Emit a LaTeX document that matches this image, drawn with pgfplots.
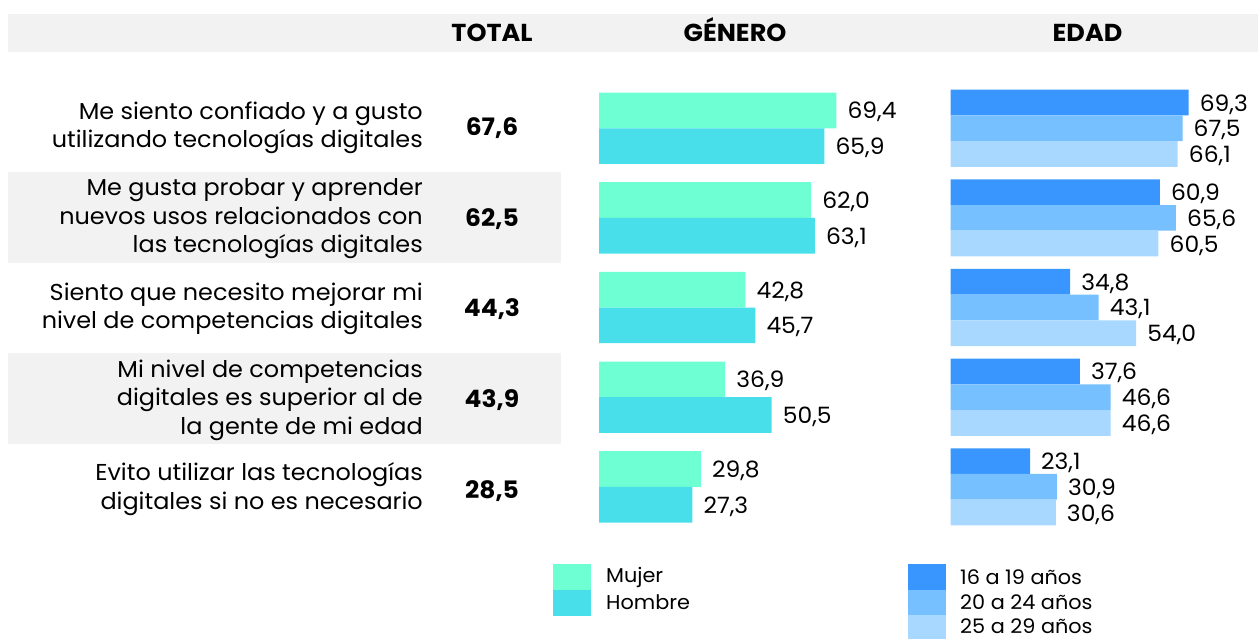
\documentclass[border=0pt]{standalone}
\usepackage{pgfplots}
\pgfplotsset{compat=1.18}
\usepackage{fontspec}
\setmainfont[FakeStretch=1.04]{Poppins}
\definecolor{mujer}{HTML}{6EFFD2}
\definecolor{hombre}{HTML}{48DEEA}
\definecolor{eA}{HTML}{3A96FF}
\definecolor{eB}{HTML}{77C0FF}
\definecolor{eC}{HTML}{A8D8FF}
\definecolor{band}{HTML}{F2F2F2}
\newcommand{\lbl}{\fontsize{23}{28.5}\selectfont}
\newcommand{\val}{\fontsize{22.5}{26}\selectfont}
\newcommand{\hdr}{\fontsize{24.5}{28}\selectfont\bfseries}
\newcommand{\tot}{\fontsize{24}{28}\selectfont\bfseries}
\newcommand{\leg}{\fontsize{20}{24}\selectfont}
\begin{document}
\begin{tikzpicture}
\begin{scope}[x=1pt,y=-1pt]
\path (0,0) rectangle (1258,639);
% bands
\fill[band] (7.7,14) rectangle (1258,51.7);
\fill[band] (7.7,172) rectangle (561,263);
\fill[band] (7.7,353) rectangle (561,443.5);
% headers
\node[font=\hdr, anchor=base, inner sep=0pt] at (492,42) {TOTAL};
\node[font=\hdr, anchor=base, inner sep=0pt] at (735,42) {GÉNERO};
\node[font=\hdr, anchor=base, inner sep=0pt] at (1087.5,42) {EDAD};
% row labels
\node[font=\lbl,align=right,anchor=east,inner sep=0pt] at (423,128) {Me siento confiado y a gusto\\utilizando tecnologías digitales};
\node[font=\lbl,align=right,anchor=east,inner sep=0pt] at (423,219) {Me gusta probar y aprender\\nuevos usos relacionados con\\las tecnologías digitales};
\node[font=\lbl,align=right,anchor=east,inner sep=0pt] at (423,309) {Siento que necesito mejorar mi\\nivel de competencias digitales};
\node[font=\lbl,align=right,anchor=east,inner sep=0pt] at (423,400) {Mi nivel de competencias\\digitales es superior al de\\la gente de mi edad};
\node[font=\lbl,align=right,anchor=east,inner sep=0pt] at (423,489) {Evito utilizar las tecnologías\\digitales si no es necesario};
% totals
\node[font=\tot] at (492,128) {67,6};
\node[font=\tot] at (492,219) {62,5};
\node[font=\tot] at (492,309) {44,3};
\node[font=\tot] at (492,400) {43,9};
\node[font=\tot] at (492,491) {28,5};
% legends
\fill[mujer] (553,564) rectangle (590.6,590);
\fill[hombre] (553,590) rectangle (590.6,616);
\node[font=\leg, anchor=west, inner sep=0pt] at (606,577) {Mujer};
\node[font=\leg, anchor=west, inner sep=0pt] at (606,602) {Hombre};
\fill[eA] (908,564) rectangle (946,589.5);
\fill[eB] (908,589.5) rectangle (946,614.5);
\fill[eC] (908,614.5) rectangle (946,639);
\node[font=\leg, anchor=west, inner sep=0pt] at (960,577) {16 a 19 años};
\node[font=\leg, anchor=west, inner sep=0pt] at (960,602) {20 a 24 años};
\node[font=\leg, anchor=west, inner sep=0pt] at (960,626.5) {25 a 29 años};
\end{scope}
% GENERO
\begin{axis}[at={(599pt,-639pt)}, anchor=south west, scale only axis,
  width=342pt, height=639pt, xmin=0, xmax=100, ymin=-639, ymax=0,
  hide axis, clip=false, xbar, bar width=35.7, bar shift=0pt,
  nodes near coords, /pgf/number format/.cd, fixed, fixed zerofill, precision=1, use comma, assume math mode=true,
  /pgfplots/.cd,
  every node near coord/.append style={font=\val, anchor=base west, inner sep=0pt, xshift=11pt, yshift=-8.5pt, text=black}]
\addplot[draw=none, fill=mujer] coordinates {(69.4,-110.45) (62.0,-200.05) (42.8,-289.65) (36.9,-379.35) (29.8,-468.95)};
\addplot[draw=none, fill=hombre] coordinates {(65.9,-146.15) (63.1,-235.75) (45.7,-325.35) (50.5,-415.05) (27.3,-504.65)};
\end{axis}
% EDAD
\begin{axis}[at={(950.7pt,-639pt)}, anchor=south west, scale only axis,
  width=343.4pt, height=639pt, xmin=0, xmax=100, ymin=-639, ymax=0,
  hide axis, clip=false, xbar, bar width=25.7, bar shift=0pt,
  nodes near coords, /pgf/number format/.cd, fixed, fixed zerofill, precision=1, use comma, assume math mode=true,
  /pgfplots/.cd,
  every node near coord/.append style={font=\val, anchor=base west, inner sep=0pt, xshift=11pt, yshift=-8.5pt, text=black}]
\addplot[draw=none, fill=eA] coordinates {(69.3,-102.6) (60.9,-192.2) (34.8,-281.8) (37.6,-371.5) (23.1,-461.1)};
\addplot[draw=none, fill=eB] coordinates {(67.5,-128.3) (65.6,-217.9) (43.1,-307.5) (46.6,-397.2) (30.9,-486.8)};
\addplot[draw=none, fill=eC] coordinates {(66.1,-154.0) (60.5,-243.6) (54.0,-333.2) (46.6,-422.9) (30.6,-512.5)};
\end{axis}
\end{tikzpicture}
\end{document}
